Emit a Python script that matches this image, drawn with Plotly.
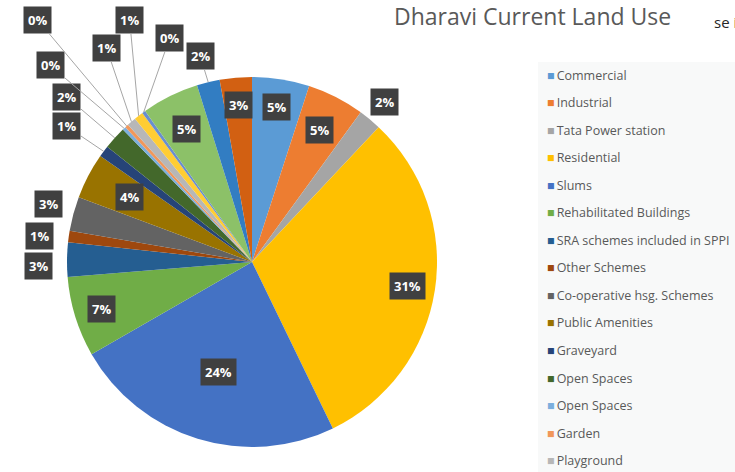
import math
import plotly.graph_objects as go

# ---------------- data ----------------
categories = [
    "Commercial", "Industrial", "Tata Power station", "Residential", "Slums",
    "Rehabilitated Buildings", "SRA schemes included in SPPI", "Other Schemes",
    "Co-operative hsg. Schemes", "Public Amenities", "Graveyard", "Open Spaces",
    "Open Spaces ", "Garden", "Playground",
    "Unlabelled 16", "Unlabelled 17", "Unlabelled 18", "Unlabelled 19", "Unlabelled 20",
]
shares = [5.0, 5.0, 2.0, 30.8, 23.9, 7.0, 3.0, 1.0, 3.0, 4.0, 1.0, 2.0,
          0.3, 0.3, 0.8, 0.8, 0.3, 5.0, 2.0, 2.8]
legend_visible = 15  # legend is cut off after "Playground" in the reference

colors = ["#5B9BD5", "#ED7D31", "#A5A5A5", "#FFC000", "#4472C4", "#70AD47",
          "#255E91", "#9E480E", "#636363", "#997300", "#264478", "#43682B",
          "#7CAFDD", "#F1975A", "#B7B7B7", "#FFCD33", "#698ED0", "#8CC168",
          "#327DC2", "#D26012"]

# ---------------- layout / styling ----------------
W, H = 735, 472
cx, cy, R = 252, 262, 185

# label placement per slice: ("in", radial fraction) or ("out", dx, dy, leader)
label_place = [
    ("in", 0.85), ("in", 0.80), ("in", 1.12), ("in", 0.85), ("in", 0.62),
    ("in", 0.85),
    ("out", -29, 6, False), ("out", -29, -1, False), ("out", -25, -10, False),
    ("in", 0.75),
    ("out", -37, -25, True), ("out", -48, -41, True), ("out", -74, -63, True),
    ("out", -89, -106, True), ("out", -25, -74, True), ("out", -9, -96, True),
    ("out", 26, -74, True),
    ("in", 0.80), ("out", -8, -26, True), ("in", 0.85),
]

fig = go.Figure()

fig.add_trace(go.Pie(
    labels=categories, values=shares, sort=False, direction="clockwise",
    rotation=0, marker=dict(colors=colors, line=dict(width=0)),
    textinfo="none", showlegend=False, hoverinfo="label+percent",
    domain=dict(x=[(cx - R) / W, (cx + R) / W],
                y=[(H - cy - R) / H, (H - cy + R) / H]),
))

# legend entries (only those visible in the reference); coloured square as text glyph
for i in range(legend_visible):
    fig.add_trace(go.Scatter(
        x=[None], y=[None], mode="markers",
        name='<span style="color:%s">■</span>\u2009%s' % (colors[i], categories[i].strip()),
        legendgroup=str(i),
        marker=dict(symbol="square", size=1, color="rgba(0,0,0,0)"),
    ))

total = sum(shares)
annotations = []
cum = 0.0
lbl_font = dict(family="Open Sans", size=13, color="white")
for v, place in zip(shares, label_place):
    mid = (cum + v / 2) / total * 2 * math.pi
    cum += v
    text = "<b>%d%%</b>" % round(v / total * 100)
    if place[0] == "in":
        f = place[1]
        px = cx + f * R * math.sin(mid)
        py = cy - f * R * math.cos(mid)
        annotations.append(dict(x=px / W, y=1 - py / H, xref="paper", yref="paper",
                                xanchor="center", yanchor="middle",
                                text=text, showarrow=False, font=lbl_font,
                                bgcolor="#404040", borderpad=4))
    else:
        _, dx, dy, leader = place
        tx = cx + R * math.sin(mid)
        ty = cy - R * math.cos(mid)
        if leader:
            annotations.append(dict(x=tx / W, y=1 - ty / H, xref="paper", yref="paper",
                                    ax=dx, ay=dy, text=text, showarrow=True,
                                    arrowhead=0, arrowwidth=1, arrowcolor="#A6A6A6",
                                    standoff=0, font=lbl_font,
                                    bgcolor="#404040", borderpad=4))
        else:
            annotations.append(dict(x=(tx + dx) / W, y=1 - (ty + dy) / H,
                                    xref="paper", yref="paper",
                                    xanchor="center", yanchor="middle", text=text,
                                    showarrow=False, font=lbl_font,
                                    bgcolor="#404040", borderpad=4))

annotations.append(dict(x=532 / W, y=1 - 16 / H, xref="paper", yref="paper",
                        xanchor="center", yanchor="middle",
                        text="Dharavi Current Land Use", showarrow=False,
                        font=dict(family="Open Sans", size=23, color="#595959")))
annotations.append(dict(x=712 / W, y=1 - 22 / H, xref="paper", yref="paper",
                        xanchor="left", yanchor="middle", text="se in", showarrow=False,
                        font=dict(family="Open Sans", size=15, color="#262626")))

fig.update_layout(
    width=W, height=H,
    margin=dict(l=0, r=0, t=0, b=0, autoexpand=False),
    paper_bgcolor="white", plot_bgcolor="white",
    xaxis=dict(visible=False), yaxis=dict(visible=False),
    annotations=annotations,
    shapes=[dict(type="rect", xref="paper", yref="paper", x0=538 / W, x1=1,
                 y0=0, y1=1 - 62 / H, fillcolor="#F8F9F9", line=dict(width=0),
                 layer="below")],
    legend=dict(x=507 / W, y=1 - 60 / H, xanchor="left", yanchor="top",
                font=dict(family="Open Sans", size=12.5, color="#595959"),
                bgcolor="rgba(0,0,0,0)", tracegroupgap=8.3, itemwidth=30),
    showlegend=True,
)

fig.write_html("out.html")
